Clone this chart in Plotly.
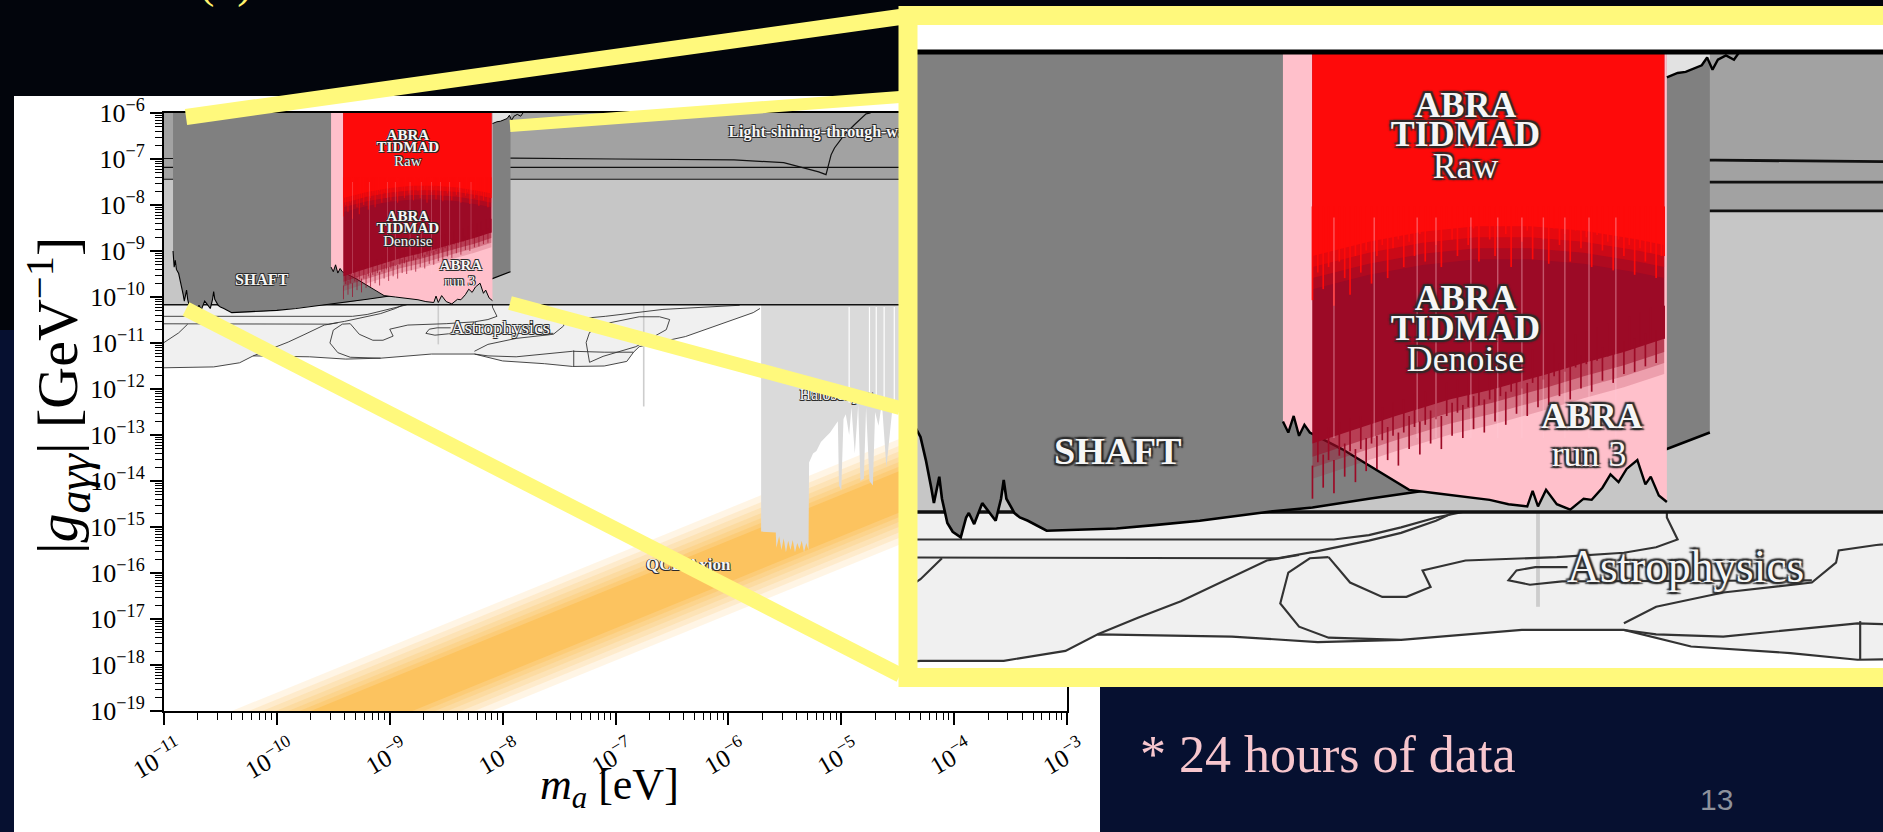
import numpy as np
import plotly.graph_objects as go

W, H = 1883, 832

# ---------------- data, all in log10 units ----------------
# x = log10(m_a / eV), y = log10(|g_agg| / GeV^-1)
X_TICK_EXP = [-11, -10, -9, -8, -7, -6, -5, -4, -3]
X_TICK_TEXT = ["10<sup>−11</sup>", "10<sup>−10</sup>", "10<sup>−9</sup>", "10<sup>−8</sup>",
               "10<sup>−7</sup>", "10<sup>−6</sup>", "10<sup>−5</sup>", "10<sup>−4</sup>", "10<sup>−3</sup>"]
Y_TICK_EXP = [-19, -18, -17, -16, -15, -14, -13, -12, -11, -10, -9, -8, -7, -6]
Y_TICK_TEXT = ["10<sup>−19</sup>", "10<sup>−18</sup>", "10<sup>−17</sup>", "10<sup>−16</sup>",
               "10<sup>−15</sup>", "10<sup>−14</sup>", "10<sup>−13</sup>", "10<sup>−12</sup>",
               "10<sup>−11</sup>", "10<sup>−10</sup>", "10<sup>−9</sup>", "10<sup>−8</sup>",
               "10<sup>−7</sup>", "10<sup>−6</sup>"]

BAND_X_SPAN = [-11.5, -2.5]
LSW_TOP = -6.0
LSW_BOTTOM = -7.44
LSW_EXTRA_LEVELS = [-7.18, -7.44]
CAST_LEVEL = -10.17

LSW_CURVE_X = [-11.5, -7.91, -7.0, -6.4, -5.95, -5.51, -5.36, -5.2, -5.135, -5.09, -5.06, -4.975, -4.886, -4.78, -4.74]
LSW_CURVE_Y = [-6.99, -6.98, -7.0, -7.01, -7.02, -7.08, -7.17, -7.28, -7.34, -6.91, -6.76, -6.48, -6.26, -6.02, -6.0]

QCD_X_ENDS = [-11.5, -2.5]
QCD_CENTER_ENDS = [-21.25, -12.25]
QCD_HALF_WIDTHS = [1.15, 1.0, 0.88, 0.76, 0.65, 0.55, 0.45]

SHAFT_LEFT = -10.92
SHAFT_FLOOR_X = [-10.92, -10.91, -10.90, -10.89, -10.87, -10.85, -10.83, -10.82, -10.80, -10.79, -10.77,
                 -10.75, -10.72, -10.70, -10.69, -10.67, -10.64, -10.62, -10.59, -10.57, -10.56, -10.55,
                 -10.52, -10.50, -10.47, -10.40, -10.30, -10.14, -10.0, -9.83, -9.58, -9.41, -9.20,
                 -9.0, -8.6, -8.3, -8.09, -7.93]
SHAFT_FLOOR_Y = [-9.00, -9.35, -9.20, -9.40, -9.49, -9.70, -9.95, -10.09, -9.85, -10.05, -10.27,
                 -10.35, -10.40, -10.22, -10.18, -10.28, -10.09, -10.15, -10.25, -10.05, -9.88, -10.05,
                 -10.18, -10.22, -10.25, -10.34, -10.33, -10.32, -10.29, -10.25, -10.17, -10.13, -10.05,
                 -9.98, -9.85, -9.72, -9.60, -9.45]
JAG_X = [-8.09, -8.05, -8.02, -7.98, -7.96, -7.94, -7.93, -7.92, -7.90, -7.87, -7.84, -7.82]
JAG_Y = [-6.23, -6.19, -6.18, -6.14, -6.12, -6.05, -6.10, -6.16, -6.07, -6.03, -6.07, -6.0]

RUN3_X = [-9.52, -9.50, -9.48, -9.46, -9.44, -9.42, -9.30, -9.17, -9.10, -9.05, -8.95, -8.86, -8.75,
          -8.68, -8.61, -8.59, -8.57, -8.54, -8.50, -8.45, -8.40, -8.37, -8.33, -8.30, -8.27, -8.24,
          -8.20, -8.17, -8.15, -8.12, -8.09]
RUN3_Y = [-9.35, -9.45, -9.30, -9.48, -9.38, -9.45, -9.60, -9.79, -9.90, -9.97, -10.00, -10.03, -10.06,
          -10.10, -10.12, -9.98, -10.12, -9.97, -10.10, -10.15, -10.05, -10.06, -9.95, -9.83, -9.90, -9.78,
          -9.70, -9.92, -9.85, -10.02, -10.08]

# ABRA TIDMAD: smooth limit (solid colour) plus streak ends
TIDMAD_EDGES = [-9.41, -8.10]
RAW_BASE_X = [-9.41, -9.2, -9.0, -8.8, -8.6, -8.4, -8.2, -8.10]
RAW_BASE_Y = [-7.85, -7.72, -7.63, -7.58, -7.58, -7.62, -7.70, -7.75]
DENOISE_BASE_X = [-9.41, -9.25, -9.1, -8.9, -8.74, -8.55, -8.4, -8.25, -8.10]
DENOISE_BASE_Y = [-9.55, -9.42, -9.30, -9.15, -9.06, -8.93, -8.82, -8.72, -8.60]
TIDMAD_X = [-9.41, -9.39, -9.37, -9.35, -9.33, -9.31, -9.29, -9.27, -9.25, -9.23,
            -9.21, -9.19, -9.17, -9.15, -9.13, -9.11, -9.09, -9.07, -9.05, -9.03,
            -9.01, -8.99, -8.97, -8.95, -8.93, -8.91, -8.89, -8.87, -8.85, -8.83,
            -8.81, -8.79, -8.77, -8.75, -8.73, -8.71, -8.69, -8.67, -8.65, -8.63,
            -8.61, -8.59, -8.57, -8.55, -8.53, -8.51, -8.49, -8.47, -8.45, -8.43,
            -8.41, -8.39, -8.37, -8.35, -8.33, -8.31, -8.29, -8.27, -8.25, -8.23,
            -8.21, -8.19, -8.17, -8.15, -8.13, -8.11, -8.10]
RAW_STREAK_Y = [-8.25, -8.00, -8.15, -7.95, -8.30, -7.90, -8.05, -8.20, -7.85, -8.00,
                -7.80, -8.10, -7.85, -7.75, -8.05, -7.78, -7.70, -7.95, -7.72, -7.85,
                -7.65, -7.90, -7.62, -7.75, -7.95, -7.60, -7.70, -7.85, -7.58, -7.75,
                -7.60, -7.90, -7.55, -7.70, -7.85, -7.58, -7.65, -7.95, -7.55, -7.72,
                -7.62, -7.88, -7.58, -7.70, -7.92, -7.60, -7.75, -7.65, -7.90, -7.62,
                -7.78, -7.68, -7.95, -7.66, -7.80, -7.72, -7.98, -7.70, -7.85, -7.75,
                -8.02, -7.78, -7.90, -7.82, -8.05, -7.85, -7.85]
DENOISE_STREAK_Y = [-10.05, -9.72, -9.95, -9.70, -10.00, -9.66, -9.85, -9.62, -9.90, -9.60,
                    -9.80, -9.55, -9.78, -9.52, -9.70, -9.48, -9.75, -9.45, -9.60, -9.40,
                    -9.65, -9.38, -9.55, -9.33, -9.60, -9.30, -9.48, -9.27, -9.50, -9.22,
                    -9.42, -9.20, -9.45, -9.15, -9.35, -9.12, -9.38, -9.08, -9.28, -9.05,
                    -9.30, -9.00, -9.22, -8.97, -9.20, -8.94, -9.12, -8.90, -9.15, -8.86,
                    -9.05, -8.83, -9.08, -8.80, -8.98, -8.76, -9.00, -8.72, -8.92, -8.70,
                    -8.90, -8.66, -8.85, -8.62, -8.82, -8.60, -8.60]
STREAK_X = [-9.33, -9.18, -9.02, -8.95, -8.82, -8.72, -8.63, -8.55, -8.47, -8.38, -8.28]

AST_BOTTOM_X = [-11.5, -11.0, -10.87, -10.56, -10.33, -10.21, -9.71, -9.39, -9.08, -8.63, -8.25, -8.0,
                -7.63, -7.38, -7.10, -6.90, -6.84, -6.79, -6.38, -5.78, -5.72]
AST_BOTTOM_Y = [-11.56, -11.54, -11.52, -11.52, -11.43, -11.28, -11.30, -11.35, -11.33, -11.24, -11.24,
                -11.39, -11.45, -11.51, -11.50, -11.40, -11.20, -11.08, -10.86, -10.34, -10.25]
AST_CURVES = [
    ([-11.5, -9.33, -9.2, -9.08, -8.95, -8.85], [-10.42, -10.42, -10.38, -10.31, -10.22, -10.17]),
    ([-11.5, -9.54, -9.4, -9.2, -9.08, -8.95, -8.88], [-10.58, -10.59, -10.53, -10.43, -10.36, -10.25, -10.17]),
    ([-11.2, -11.0, -10.87, -10.79], [-11.2, -10.99, -10.78, -10.59]),
    ([-10.21, -10.06, -9.9, -9.76, -9.58, -9.46], [-11.28, -11.13, -10.98, -10.82, -10.61, -10.56]),
    ([-9.35, -9.27, -9.15, -9.06, -8.97, -9.0, -8.84, -8.5, -8.25, -8.13, -8.05, -8.09, -8.09],
     [-10.58, -10.81, -10.94, -10.94, -10.85, -10.70, -10.61, -10.58, -10.54, -10.49, -10.42, -10.22, -10.17]),
    ([-9.35, -9.42, -9.50, -9.53, -9.46, -9.35, -9.08], [-10.58, -10.59, -10.72, -11.0, -11.21, -11.31, -11.33]),
    ([-8.25, -8.13, -7.88, -7.55, -7.46, -7.45, -7.31, -7.09, -6.58, -6.14, -5.9],
     [-11.18, -11.03, -10.9, -10.81, -10.63, -10.52, -10.47, -10.42, -10.27, -10.21, -10.18]),
    ([-8.46, -8.58, -8.65, -8.68, -8.60, -8.48, -7.55], [-10.67, -10.67, -10.70, -10.79, -10.83, -10.80, -10.79]),
    ([-8.25, -8.13, -7.88, -7.63, -7.38, -7.1, -6.84], [-11.24, -11.28, -11.30, -11.24, -11.18, -11.2, -11.2]),
    ([-7.23, -7.05, -6.79, -6.61, -6.52, -6.55, -6.82, -7.11, -7.23, -7.26, -7.23],
     [-10.77, -10.56, -10.43, -10.43, -10.49, -10.71, -11.08, -11.29, -11.42, -10.99, -10.77]),
    ([-7.37, -7.37], [-11.16, -11.51]),
]

HALO_X = [-5.71, -5.58, -5.575, -5.55, -5.53, -5.51, -5.49, -5.47, -5.45, -5.43, -5.41, -5.39, -5.37,
          -5.35, -5.33, -5.31, -5.29, -5.285, -5.25, -5.22, -5.18, -5.14, -5.10, -5.06, -5.03, -5.02,
          -5.00, -4.98, -4.96, -4.93, -4.91, -4.88, -4.85, -4.83, -4.80, -4.78, -4.75, -4.72, -4.70,
          -4.67, -4.64, -4.60, -4.55, -4.50, -4.40]
HALO_Y = [-15.10, -15.12, -15.45, -15.20, -15.50, -15.25, -15.55, -15.30, -15.50, -15.28, -15.55, -15.35,
          -15.48, -15.30, -15.55, -15.35, -15.50, -13.60, -13.40, -13.35, -13.15, -13.05, -12.95, -12.80,
          -12.70, -14.10, -14.20, -12.65, -12.55, -13.00, -12.40, -13.40, -12.35, -14.00, -13.95, -12.40,
          -14.00, -14.10, -12.50, -12.80, -12.30, -13.70, -12.50, -12.40, -12.30]
HALO_GAP_X = [-4.93, -4.75, -4.69, -4.62, -4.53]
HALO_GAP_BOTTOM = -12.3
GRAY_VLINES = [(-8.57, -10.17, -11.03), (-6.75, -10.17, -12.38)]

# labels: (text, x, y, size in main plot, anchor)
LABELS = [
    ("<b>ABRA</b>", -8.84, -6.51, 15, "middle center"),
    ("<b>TIDMAD</b>", -8.84, -6.77, 15, "middle center"),
    ("Raw", -8.84, -7.06, 15, "middle center"),
    ("<b>ABRA</b>", -8.84, -8.26, 15, "middle center"),
    ("<b>TIDMAD</b>", -8.84, -8.53, 15, "middle center"),
    ("Denoise", -8.84, -8.81, 15, "middle center"),
    ("<b>ABRA</b>", -8.37, -9.33, 15, "middle center"),
    ("run 3", -8.38, -9.67, 15, "middle center"),
    ("<b>SHAFT</b>", -10.135, -9.65, 16, "middle center"),
    ("Astrophysics", -8.02, -10.70, 19, "middle center"),
    ("<b>Light-shining-through-wall</b>", -6.0, -6.43, 16, "middle right"),
    ("Haloscopes", -5.37, -12.16, 16, "middle right"),
    ("<b>QCD Axion</b>", -6.73, -15.85, 17, "middle right"),
]

INSET_X_RANGE = [-10.883, -7.285]
INSET_Y_RANGE = [-11.585, -5.755]


def P(v):
    return (10.0 ** np.asarray(v, dtype=float)).tolist()


fig = go.Figure()


def add_layer(xa, ya, s, inset):
    kw = dict(xaxis=xa, yaxis=ya, hoverinfo="skip", showlegend=False)

    def poly(xs, ys, color):
        fig.add_trace(go.Scatter(x=P(xs), y=P(ys), mode="lines", fill="toself", fillcolor=color,
                                 line=dict(width=0, color=color), **kw))

    def line(xs, ys, color="black", w=1.0):
        fig.add_trace(go.Scatter(x=P(xs), y=P(ys), mode="lines",
                                 line=dict(width=w * s, color=color), **kw))

    def segments(xs, ytop, ybot, color, w):
        sx, sy = [], []
        for xv, t, b in zip(xs, ytop, ybot):
            sx += [10.0 ** xv, 10.0 ** xv, None]
            sy += [10.0 ** t, 10.0 ** b, None]
        fig.add_trace(go.Scatter(x=sx, y=sy, mode="lines", line=dict(width=w * s, color=color), **kw))

    if inset:
        poly([-12, -6, -6, -12], [-13, -13, -5, -5], "white")

    # QCD axion band (soft edges)
    if not inset:
        qalpha = [0.16, 0.18, 0.2, 0.24, 0.3, 0.45, 1.0]
        for hw, a in zip(QCD_HALF_WIDTHS, qalpha):
            poly([QCD_X_ENDS[0], QCD_X_ENDS[1], QCD_X_ENDS[1], QCD_X_ENDS[0]],
                 [QCD_CENTER_ENDS[0] + hw, QCD_CENTER_ENDS[1] + hw,
                  QCD_CENTER_ENDS[1] - hw, QCD_CENTER_ENDS[0] - hw],
                 f"rgba(252,195,95,{a})")

    x0, x1 = BAND_X_SPAN
    # helioscope band and light-shining-through-wall band
    poly([x0, x1, x1, x0], [LSW_BOTTOM, LSW_BOTTOM, CAST_LEVEL, CAST_LEVEL], "#c6c6c6")
    poly([x0, x1, x1, x0], [LSW_TOP, LSW_TOP, LSW_BOTTOM, LSW_BOTTOM], "#a2a2a2")

    # astrophysics
    ax = [x0, AST_BOTTOM_X[-1]] + AST_BOTTOM_X[::-1]
    ay = [CAST_LEVEL, CAST_LEVEL] + AST_BOTTOM_Y[::-1]
    poly(ax, ay, "#f0f0f0")
    line(AST_BOTTOM_X, AST_BOTTOM_Y, "#333333", 0.9)

    # haloscopes
    hx = [HALO_X[0], HALO_X[-1]] + HALO_X[::-1]
    hy = [CAST_LEVEL, CAST_LEVEL] + HALO_Y[::-1]
    poly(hx, hy, "#dadada")
    for gx in HALO_GAP_X:
        line([gx, gx], [CAST_LEVEL - 0.05, HALO_GAP_BOTTOM], "white", 1.2)
    for vx, vt, vb in GRAY_VLINES:
        line([vx, vx], [vt, vb], "#cdcdcd", 1.6)

    for cx, cy in AST_CURVES:
        line(cx, cy, "#333333", 0.9)

    # LSW / helioscope limit lines
    line(LSW_CURVE_X, LSW_CURVE_Y, "#111111", 1.2)
    for lv in LSW_EXTRA_LEVELS:
        line([x0, x1], [lv, lv], "#111111", 1.2)
    line([x0, x1], [CAST_LEVEL, CAST_LEVEL], "#111111", 1.5)

    # light patch above the SHAFT right column
    poly([JAG_X[0]] + JAG_X[:7] + [JAG_X[6]], [LSW_TOP] + JAG_Y[:7] + [LSW_TOP], "#e2e2e2")

    # SHAFT
    sx = [SHAFT_LEFT, JAG_X[0]] + JAG_X[:7] + SHAFT_FLOOR_X[::-1]
    sy = [LSW_TOP, LSW_TOP] + JAG_Y[:7] + SHAFT_FLOOR_Y[::-1]
    poly(sx, sy, "#808080")
    line(SHAFT_FLOOR_X, SHAFT_FLOOR_Y, "black", 1.1)

    # ABRA run 3
    rx = [RUN3_X[0], RUN3_X[-1]] + RUN3_X[::-1]
    ry = [LSW_TOP, LSW_TOP] + RUN3_Y[::-1]
    poly(rx, ry, "#ffc0cb")
    line(RUN3_X, RUN3_Y, "black", 1.0)

    # ABRA TIDMAD denoise (crimson) with soft streaky lower edge
    e0, e1 = TIDMAD_EDGES
    crim = "156,10,38"
    for d, a in [(0.32, 0.18), (0.22, 0.3), (0.12, 0.5), (0.0, 1.0)]:
        poly([e0, e1] + DENOISE_BASE_X[::-1], [LSW_TOP, LSW_TOP] + [v - d for v in DENOISE_BASE_Y[::-1]],
             f"rgba({crim},{a})")
    segments(TIDMAD_X, [v + 0.3 for v in DENOISE_STREAK_Y], DENOISE_STREAK_Y, f"rgb({crim})", 0.7)

    # ABRA TIDMAD raw (red) with soft streaky lower edge
    red = "254,10,10"
    for d, a in [(0.3, 0.2), (0.2, 0.35), (0.1, 0.55), (0.0, 1.0)]:
        poly([e0, e1] + RAW_BASE_X[::-1], [LSW_TOP, LSW_TOP] + [v - d for v in RAW_BASE_Y[::-1]],
             f"rgba({red},{a})")
    segments(TIDMAD_X, [-7.4] * len(TIDMAD_X), RAW_STREAK_Y, f"rgb({red})", 0.7)
    for stx in STREAK_X:
        line([stx, stx], [-7.5, -9.5], "rgba(255,200,212,0.4)", 0.6)

    line(JAG_X, JAG_Y, "black", 1.0)
    if inset:
        line([-12, -6], [LSW_TOP, LSW_TOP], "black", 2.1)

    # labels (only those that fall inside this panel)
    sh = 0.8 * s
    shadow = ", ".join(f"{a:.1f}px {b:.1f}px {0.6 * s:.1f}px #2a2a2a" for a, b in
                       [(sh, sh), (-sh, -sh), (sh, -sh), (-sh, sh)])
    for txt, lx, ly, fs, pos in LABELS:
        if inset and not (INSET_X_RANGE[0] < lx < INSET_X_RANGE[1] and INSET_Y_RANGE[0] < ly < INSET_Y_RANGE[1]):
            continue
        fig.add_trace(go.Scatter(x=P([lx]), y=P([ly]), mode="text", text=[txt], textposition=pos,
                                 textfont=dict(family="Liberation Serif", size=fs * s, color="#f6f6f6",
                                               shadow=shadow), **kw))


add_layer("x", "y", 1.0, False)
add_layer("x2", "y2", 2.39, True)

XMINOR = [d * 10.0 ** e for e in range(-11, -3) for d in range(2, 10)]
YMINOR = [d * 10.0 ** e for e in range(-19, -6) for d in range(2, 10)]

fig.update_layout(
    template="none",
    width=W, height=H, margin=dict(l=0, r=0, t=0, b=0, autoexpand=False),
    paper_bgcolor="#02050c", plot_bgcolor="white",
    xaxis=dict(type="log", range=[-11, -3], domain=[164 / W, 1067 / W], anchor="y", automargin=False,
               showline=True, linecolor="black", linewidth=2, mirror=True,
               ticks="outside", ticklen=12, tickwidth=1.6, tickcolor="black",
               tickmode="array", tickvals=P(X_TICK_EXP), ticktext=X_TICK_TEXT,
               tickangle=-30, tickfont=dict(family="Liberation Serif", size=25, color="black"),
               showgrid=False, zeroline=False, ticklabelshift=14,
               minor=dict(ticks="outside", ticklen=7, tickwidth=1.1, tickcolor="black",
                          tickmode="array", tickvals=XMINOR, showgrid=False)),
    yaxis=dict(type="log", range=[-19, -6], domain=[1 - 711 / H, 1 - 113 / H], anchor="x", automargin=False,
               showline=True, linecolor="black", linewidth=2, mirror=True,
               ticks="outside", ticklen=12, tickwidth=1.6, tickcolor="black",
               tickmode="array", tickvals=P(Y_TICK_EXP), ticktext=Y_TICK_TEXT,
               tickfont=dict(family="Liberation Serif", size=26, color="black"),
               showgrid=False, zeroline=False,
               minor=dict(ticks="outside", ticklen=7, tickwidth=1.1, tickcolor="black",
                          tickmode="array", tickvals=YMINOR, showgrid=False)),
    xaxis2=dict(type="log", range=INSET_X_RANGE, domain=[917 / W, 1.0], anchor="y2", visible=False,
                automargin=False),
    yaxis2=dict(type="log", range=INSET_Y_RANGE, domain=[1 - 668 / H, 1 - 25 / H], anchor="x2",
                visible=False, automargin=False),
)


def px(x):
    return x / W


def py(y):
    return 1 - y / H


YEL = "#fff97c"
shapes = [
    dict(type="rect", xref="paper", yref="paper", x0=0, x1=1, y0=py(832), y1=py(330),
         fillcolor="#061030", line=dict(width=0), layer="below"),
    dict(type="rect", xref="paper", yref="paper", x0=px(14), x1=px(1100), y0=py(832), y1=py(96),
         fillcolor="white", line=dict(width=0), layer="below"),
    dict(type="line", xref="paper", yref="paper", x0=px(186), y0=py(117), x1=px(900), y1=py(17),
         line=dict(color=YEL, width=16)),
    dict(type="line", xref="paper", yref="paper", x0=px(510), y0=py(126), x1=px(900), y1=py(97),
         line=dict(color=YEL, width=12)),
    dict(type="line", xref="paper", yref="paper", x0=px(186), y0=py(309), x1=px(900), y1=py(675),
         line=dict(color=YEL, width=15)),
    dict(type="line", xref="paper", yref="paper", x0=px(510), y0=py(303), x1=px(900), y1=py(408),
         line=dict(color=YEL, width=14)),
    dict(type="rect", xref="paper", yref="paper", x0=px(908), x1=px(1905), y0=py(677.5), y1=py(15.5),
         line=dict(color=YEL, width=19), fillcolor="rgba(0,0,0,0)"),
]
fig.update_layout(shapes=shapes)

ann = [
    dict(text="<i>m</i><sub><i>a</i></sub> [eV]", x=px(609), y=py(787), xref="paper", yref="paper",
         xanchor="center", yanchor="middle", showarrow=False,
         font=dict(family="Liberation Serif", size=44, color="black")),
    dict(text="|<i>g</i><sub><span style='font-size:46px'><i>aγγ</i></span></sub>| [GeV<sup>−1</sup>]",
         x=px(58), y=py(396),
         xref="paper", yref="paper", xanchor="center", yanchor="middle", showarrow=False, textangle=-90,
         font=dict(family="Liberation Serif", size=58, color="black")),
    dict(text="* 24 hours of data", x=px(1327), y=py(754), xref="paper", yref="paper",
         xanchor="center", yanchor="middle", showarrow=False,
         font=dict(family="Liberation Serif", size=52, color="#f7c6cd")),
    dict(text="13", x=px(1716), y=py(799), xref="paper", yref="paper", xanchor="center", yanchor="middle",
         showarrow=False, font=dict(family="Liberation Sans", size=30, color="#8d929c")),
    dict(text="(b)", x=px(226), y=py(9), xref="paper", yref="paper", showarrow=False,
         xanchor="center", yanchor="bottom", font=dict(family="Liberation Serif", size=46, color="#fff36e")),
]
fig.update_layout(annotations=ann)

fig.write_html("out.html", config={"displayModeBar": False},
               post_script="document.body.style.margin='0';document.body.style.overflow='hidden';")
